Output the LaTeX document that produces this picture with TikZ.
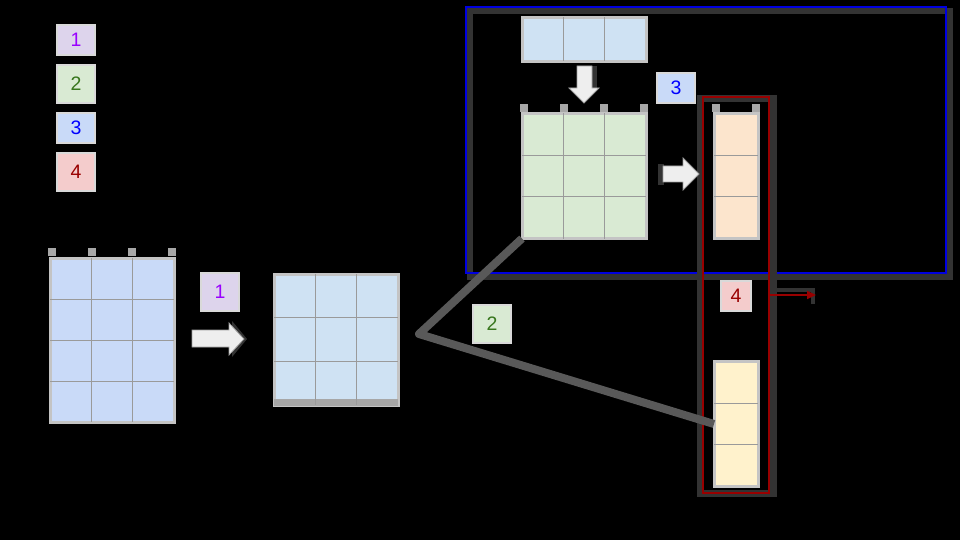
\documentclass[tikz,border=0pt]{standalone}
\usepackage{fontspec}
\setmainfont{Liberation Sans}
\usetikzlibrary{calc,arrows.meta}
\definecolor{cellblue}{HTML}{C9DAF8}
\definecolor{cellltblue}{HTML}{CFE2F3}
\definecolor{cellgreen}{HTML}{D9EAD3}
\definecolor{cellorange}{HTML}{FCE5CD}
\definecolor{cellyellow}{HTML}{FFF2CC}
\definecolor{labpurple}{HTML}{DDD4EC}
\definecolor{labred}{HTML}{F4CCCC}
\definecolor{txtpurple}{HTML}{9900FF}
\definecolor{txtgreen}{HTML}{38761D}
\definecolor{txtblue}{HTML}{0000FF}
\definecolor{txtred}{HTML}{990000}
\definecolor{gridborder}{HTML}{C4C4C4}
\definecolor{gridline}{HTML}{9A9A9A}
\definecolor{shadowgray}{HTML}{333333}
\definecolor{conngray}{HTML}{595959}
\definecolor{frameblue}{HTML}{0000E0}
\definecolor{framered}{HTML}{990000}
\definecolor{arrowfill}{HTML}{EEEEEE}
\definecolor{arrowedge}{HTML}{A0A0A0}
\tikzset{
  gridbox/.style={draw=gridborder, line width=3pt, inner sep=0pt, outer sep=0pt},
  cellline/.style={draw=gridline, line width=0.9pt},
  tab/.style={fill=gridborder!85!black},
  lab/.style={draw=gray!30, line width=2pt, inner sep=0pt, outer sep=0pt,
    font=\fontsize{19.5}{20}\selectfont},
  blockarrow/.style={fill=arrowfill, draw=arrowedge, line width=0.8pt, line join=miter},
  arrowshadow/.style={fill=shadowgray},
  conn/.style={draw=conngray, line width=8pt, line join=round},
  frameshadow/.style={draw=shadowgray, line width=6pt},
}
\begin{document}
\begin{tikzpicture}[x=1pt,y=-1pt]
\fill[black] (0,0) rectangle (960,540);
\useasboundingbox (0,0) rectangle (960,540);

% ---------- legend ----------
\node[lab, fill=labpurple, text=txtpurple, minimum width=38pt, minimum height=30pt] (k1) at (76,40) {1};
\node[lab, fill=cellgreen, text=txtgreen, minimum width=38pt, minimum height=38pt] (k2) at (76,84) {2};
\node[lab, fill=cellblue, text=txtblue, minimum width=38pt, minimum height=30pt] (k3) at (76,128) {3};
\node[lab, fill=labred, text=txtred, minimum width=38pt, minimum height=38pt] (k4) at (76,172) {4};

% ---------- blue frame ----------
\draw[frameshadow] (470,11) rectangle (950,277);
\node[draw=frameblue, line width=2.2pt, minimum width=480pt, minimum height=266pt, inner sep=0pt, outer sep=0pt] (B) at (706,140) {};

% ---------- red frame ----------
\draw[frameshadow, line width=7pt] (700,99) rectangle (773,493);
\node[draw=framered, line width=2pt, minimum width=66pt, minimum height=396pt, inner sep=0pt, outer sep=0pt] (R) at (736,295) {};

% ---------- left grid (4x3) ----------
\foreach \x in {48,88,128,168} \fill[tab] (\x,248) rectangle ++(8,8);
\node[gridbox, fill=cellblue, minimum width=124pt, minimum height=164pt] (L) at (112,340) {};
\foreach \f in {1,2} \draw[cellline] ($(L.north west)!\f/3!(L.north east)$) -- ($(L.south west)!\f/3!(L.south east)$);
\foreach \f in {1,2,3} \draw[cellline] ($(L.north west)!\f/4!(L.south west)$) -- ($(L.north east)!\f/4!(L.south east)$);

% ---------- middle grid (3x3) ----------
\node[gridbox, fill=cellltblue, minimum width=124pt, minimum height=131pt] (M) at (336,339.5) {};
\fill[gridborder!85!black] (274,399) rectangle (398,406);
\foreach \f in {1,2} \draw[cellline] ($(M.north west)!\f/3!(M.north east)$) -- ($(M.south west)!\f/3!(M.south east)$);
\foreach \f in {1,2} \draw[cellline] ($(M.north west)!\f/3!(M.south west)$) -- ($(M.north east)!\f/3!(M.south east)$);

% ---------- top row (1x3) ----------
\node[gridbox, fill=cellltblue, minimum width=124pt, minimum height=44pt] (T) at (584,39.5) {};
\foreach \f in {1,2} \draw[cellline] ($(T.north west)!\f/3!(T.north east)$) -- ($(T.south west)!\f/3!(T.south east)$);

% ---------- green grid (3x3) ----------
\foreach \x in {520,560,600,640} \fill[tab] (\x,104) rectangle ++(8,8);
\node[gridbox, fill=cellgreen, minimum width=124pt, minimum height=125pt] (G) at (584,176) {};
\foreach \f in {1,2} \draw[cellline] ($(G.north west)!\f/3!(G.north east)$) -- ($(G.south west)!\f/3!(G.south east)$);
\foreach \f in {1,2} \draw[cellline] ($(G.north west)!\f/3!(G.south west)$) -- ($(G.north east)!\f/3!(G.south east)$);

% ---------- orange column (3x1) ----------
\foreach \x in {712,752} \fill[tab] (\x,104) rectangle ++(8,8);
\node[gridbox, fill=cellorange, minimum width=44pt, minimum height=125pt] (O) at (736,176) {};
\foreach \f in {1,2} \draw[cellline] ($(O.north west)!\f/3!(O.south west)$) -- ($(O.north east)!\f/3!(O.south east)$);

% ---------- yellow column (3x1) ----------
\node[gridbox, fill=cellyellow, minimum width=44pt, minimum height=125pt] (Y) at (736,424) {};
\foreach \f in {1,2} \draw[cellline] ($(Y.north west)!\f/3!(Y.south west)$) -- ($(Y.north east)!\f/3!(Y.south east)$);

% ---------- connector 2 ----------
\coordinate (bend) at (419,334);
\draw[conn] (G.south west) -- (bend) -- (Y.west);

% ---------- block arrows ----------
% arrow 1
\fill[arrowshadow] (232,321) -- (247,339) -- (232,357) -- cycle;
\draw[blockarrow] (192,330) -- (229,330) -- (229,323) -- (244,339) -- (229,355) -- (229,347) -- (192,347) -- cycle;
% down arrow
\fill[arrowshadow] (592,66) rectangle (597,88);
\draw[blockarrow] (577,66) -- (592,66) -- (592,88) -- (599,88) -- (584,103) -- (569,88) -- (577,88) -- cycle;
% right arrow
\fill[arrowshadow] (658,164) rectangle (664,185);
\draw[blockarrow] (663,166) -- (683,166) -- (683,158) -- (699,174) -- (683,190) -- (683,182) -- (663,182) -- cycle;

% ---------- step labels ----------
\node[lab, fill=labpurple, text=txtpurple, minimum width=38pt, minimum height=38pt] (s1) at (220,292) {1};
\node[lab, fill=cellgreen, text=txtgreen, minimum width=38pt, minimum height=38pt] (s2) at (492,324) {2};
\node[lab, fill=cellblue, text=txtblue, minimum width=38pt, minimum height=30pt] (s3) at (676,88) {3};
\node[lab, fill=labred, text=txtred, minimum width=30pt, minimum height=30pt] (s4) at (736,296) {4};

% ---------- red output arrow ----------
\coordinate (outend) at (816,295);
\draw[draw=shadowgray, line width=4pt] ($(R.east)+(3,-5)$) -- (813,290) -- (813,304);
\draw[draw=framered, line width=1.6pt, -{Triangle[length=9pt,width=8pt]}] (R.east) -- (outend);
\end{tikzpicture}
\end{document}
